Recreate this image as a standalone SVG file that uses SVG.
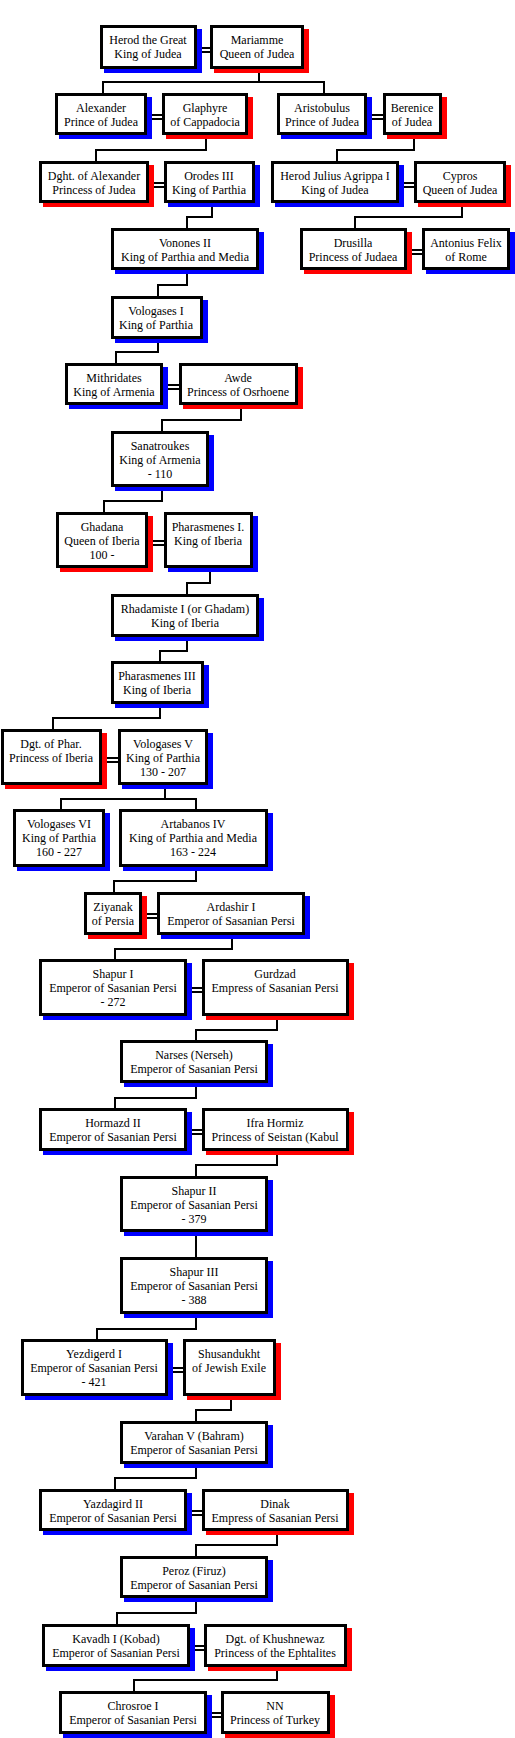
<svg xmlns="http://www.w3.org/2000/svg" width="515" height="1738" viewBox="0 0 515 1738">
<style>
.bg{fill:#ffffff}
.c{fill:none;stroke:#000;stroke-width:2}
.b{fill:#fff;stroke:#000;stroke-width:3}
.sb{fill:#0000ff}
.sr{fill:#ff0000}
text{font-family:"Liberation Serif","Times New Roman",serif;font-size:12px;fill:#000;text-anchor:middle}
</style>
<rect class="bg" x="0" y="0" width="515" height="1738"/>
<g id="connectors">
<path class="c" d="M259,69V82M103,93V82H324V93"/>
<path class="c" d="M206,135V150H96V161"/>
<path class="c" d="M414,135V150H337V161"/>
<path class="c" d="M212,203V217H187V228"/>
<path class="c" d="M462,203V217H355V228"/>
<path class="c" d="M187,270V285H158V296"/>
<path class="c" d="M158,339V352H116V363"/>
<path class="c" d="M241,405V420H162V431"/>
<path class="c" d="M162,487V501H104V512"/>
<path class="c" d="M210,568V583H187V594"/>
<path class="c" d="M187,637V651H160V661"/>
<path class="c" d="M160,704V718H53V729"/>
<path class="c" d="M165,785V799M61,809V799H196V809"/>
<path class="c" d="M196,867V881H114V892"/>
<path class="c" d="M232,935V949H115V959"/>
<path class="c" d="M277,1016V1030H196V1040"/>
<path class="c" d="M196,1083V1098H115V1108"/>
<path class="c" d="M277,1151V1165H196V1176"/>
<path class="c" d="M196,1232V1257"/>
<path class="c" d="M196,1314V1329H97V1339"/>
<path class="c" d="M231,1396V1410H196V1421"/>
<path class="c" d="M196,1464V1478H115V1489"/>
<path class="c" d="M277,1531V1545H196V1556"/>
<path class="c" d="M196,1598V1613H117V1624"/>
<path class="c" d="M277,1667V1680H134V1691"/>
<path class="c" d="M197,48H210M197,52H210"/>
<path class="c" d="M147,115H162M147,119H162"/>
<path class="c" d="M367,115H383M367,119H383"/>
<path class="c" d="M149,183H164M149,187H164"/>
<path class="c" d="M399,183H414M399,187H414"/>
<path class="c" d="M407,250H422M407,254H422"/>
<path class="c" d="M163,385H179M163,389H179"/>
<path class="c" d="M148,541H164M148,545H164"/>
<path class="c" d="M102,758H118M102,762H118"/>
<path class="c" d="M142,914H157M142,918H157"/>
<path class="c" d="M187,988H202M187,992H202"/>
<path class="c" d="M187,1130H202M187,1134H202"/>
<path class="c" d="M168,1368H183M168,1372H183"/>
<path class="c" d="M187,1511H202M187,1515H202"/>
<path class="c" d="M190,1646H204M190,1650H204"/>
<path class="c" d="M207,1713H221M207,1717H221"/>
</g>
<g id="n1"><rect class="sb" x="104" y="29" width="98" height="44"/><rect class="b" x="101.5" y="26.5" width="94" height="41"/><text x="148" y="44">Herod the Great</text><text x="148" y="58">King of Judea</text></g>
<g id="n2"><rect class="sr" x="214" y="29" width="95" height="44"/><rect class="b" x="211.5" y="26.5" width="91" height="41"/><text x="257" y="44">Mariamme</text><text x="257" y="58">Queen of Judea</text></g>
<g id="n3"><rect class="sb" x="59" y="97" width="93" height="42"/><rect class="b" x="56.5" y="94.5" width="89" height="39"/><text x="101" y="112">Alexander</text><text x="101" y="126">Prince of Judea</text></g>
<g id="n4"><rect class="sr" x="166" y="97" width="87" height="42"/><rect class="b" x="163.5" y="94.5" width="83" height="39"/><text x="205" y="112">Glaphyre</text><text x="205" y="126">of Cappadocia</text></g>
<g id="n5"><rect class="sb" x="281" y="97" width="91" height="42"/><rect class="b" x="278.5" y="94.5" width="87" height="39"/><text x="322" y="112">Aristobulus</text><text x="322" y="126">Prince of Judea</text></g>
<g id="n6"><rect class="sr" x="387" y="97" width="60" height="42"/><rect class="b" x="384.5" y="94.5" width="56" height="39"/><text x="412" y="112">Berenice</text><text x="412" y="126">of Judea</text></g>
<g id="n7"><rect class="sr" x="43" y="165" width="111" height="42"/><rect class="b" x="40.5" y="162.5" width="107" height="39"/><text x="94" y="180">Dght. of Alexander</text><text x="94" y="194">Princess of Judea</text></g>
<g id="n8"><rect class="sb" x="168" y="165" width="92" height="42"/><rect class="b" x="165.5" y="162.5" width="88" height="39"/><text x="209" y="180">Orodes III</text><text x="209" y="194">King of Parthia</text></g>
<g id="n9"><rect class="sb" x="275" y="165" width="129" height="42"/><rect class="b" x="272.5" y="162.5" width="125" height="39"/><text x="335" y="180">Herod Julius Agrippa I</text><text x="335" y="194">King of Judea</text></g>
<g id="n10"><rect class="sr" x="418" y="165" width="93" height="42"/><rect class="b" x="415.5" y="162.5" width="89" height="39"/><text x="460" y="180">Cypros</text><text x="460" y="194">Queen of Judea</text></g>
<g id="n11"><rect class="sb" x="115" y="232" width="149" height="42"/><rect class="b" x="112.5" y="229.5" width="145" height="39"/><text x="185" y="247">Vonones II</text><text x="185" y="261">King of Parthia and Media</text></g>
<g id="n12"><rect class="sr" x="304" y="232" width="108" height="42"/><rect class="b" x="301.5" y="229.5" width="104" height="39"/><text x="353" y="247">Drusilla</text><text x="353" y="261">Princess of Judaea</text></g>
<g id="n13"><rect class="sb" x="426" y="232" width="89" height="42"/><rect class="b" x="423.5" y="229.5" width="85" height="39"/><text x="466" y="247">Antonius Felix</text><text x="466" y="261">of Rome</text></g>
<g id="n14"><rect class="sb" x="115" y="300" width="93" height="43"/><rect class="b" x="112.5" y="297.5" width="89" height="40"/><text x="156" y="315">Vologases I</text><text x="156" y="329">King of Parthia</text></g>
<g id="n15"><rect class="sb" x="69" y="367" width="99" height="42"/><rect class="b" x="66.5" y="364.5" width="95" height="39"/><text x="114" y="382">Mithridates</text><text x="114" y="396">King of Armenia</text></g>
<g id="n16"><rect class="sr" x="183" y="367" width="120" height="42"/><rect class="b" x="180.5" y="364.5" width="116" height="39"/><text x="238" y="382">Awde</text><text x="238" y="396">Princess of Osrhoene</text></g>
<g id="n17"><rect class="sb" x="115" y="435" width="99" height="56"/><rect class="b" x="112.5" y="432.5" width="95" height="53"/><text x="160" y="450">Sanatroukes</text><text x="160" y="464">King of Armenia</text><text x="160" y="478">- 110</text></g>
<g id="n18"><rect class="sr" x="60" y="516" width="93" height="56"/><rect class="b" x="57.5" y="513.5" width="89" height="53"/><text x="102" y="531">Ghadana</text><text x="102" y="545">Queen of Iberia</text><text x="102" y="559">100 -</text></g>
<g id="n19"><rect class="sb" x="168" y="516" width="90" height="56"/><rect class="b" x="165.5" y="513.5" width="86" height="53"/><text x="208" y="531">Pharasmenes I.</text><text x="208" y="545">King of Iberia</text></g>
<g id="n20"><rect class="sb" x="115" y="598" width="149" height="43"/><rect class="b" x="112.5" y="595.5" width="145" height="40"/><text x="185" y="613">Rhadamiste I (or Ghadam)</text><text x="185" y="627">King of Iberia</text></g>
<g id="n21"><rect class="sb" x="115" y="665" width="94" height="43"/><rect class="b" x="112.5" y="662.5" width="90" height="40"/><text x="157" y="680">Pharasmenes III</text><text x="157" y="694">King of Iberia</text></g>
<g id="n22"><rect class="sr" x="5" y="733" width="102" height="56"/><rect class="b" x="2.5" y="730.5" width="98" height="53"/><text x="51" y="748">Dgt. of Phar.</text><text x="51" y="762">Princess of Iberia</text></g>
<g id="n23"><rect class="sb" x="122" y="733" width="91" height="56"/><rect class="b" x="119.5" y="730.5" width="87" height="53"/><text x="163" y="748">Vologases V</text><text x="163" y="762">King of Parthia</text><text x="163" y="776">130 - 207</text></g>
<g id="n24"><rect class="sb" x="17" y="813" width="93" height="58"/><rect class="b" x="14.5" y="810.5" width="89" height="55"/><text x="59" y="828">Vologases VI</text><text x="59" y="842">King of Parthia</text><text x="59" y="856">160 - 227</text></g>
<g id="n25"><rect class="sb" x="123" y="813" width="150" height="58"/><rect class="b" x="120.5" y="810.5" width="146" height="55"/><text x="193" y="828">Artabanos IV</text><text x="193" y="842">King of Parthia and Media</text><text x="193" y="856">163 - 224</text></g>
<g id="n26"><rect class="sr" x="88" y="896" width="59" height="43"/><rect class="b" x="85.5" y="893.5" width="55" height="40"/><text x="113" y="911">Ziyanak</text><text x="113" y="925">of Persia</text></g>
<g id="n27"><rect class="sb" x="161" y="896" width="149" height="43"/><rect class="b" x="158.5" y="893.5" width="145" height="40"/><text x="231" y="911">Ardashir I</text><text x="231" y="925">Emperor of Sasanian Persi</text></g>
<g id="n28"><rect class="sb" x="43" y="963" width="149" height="57"/><rect class="b" x="40.5" y="960.5" width="145" height="54"/><text x="113" y="978">Shapur I</text><text x="113" y="992">Emperor of Sasanian Persi</text><text x="113" y="1006">- 272</text></g>
<g id="n29"><rect class="sr" x="206" y="963" width="148" height="57"/><rect class="b" x="203.5" y="960.5" width="144" height="54"/><text x="275" y="978">Gurdzad</text><text x="275" y="992">Empress of Sasanian Persi</text></g>
<g id="n30"><rect class="sb" x="124" y="1044" width="149" height="43"/><rect class="b" x="121.5" y="1041.5" width="145" height="40"/><text x="194" y="1059">Narses (Nerseh)</text><text x="194" y="1073">Emperor of Sasanian Persi</text></g>
<g id="n31"><rect class="sb" x="43" y="1112" width="149" height="43"/><rect class="b" x="40.5" y="1109.5" width="145" height="40"/><text x="113" y="1127">Hormazd II</text><text x="113" y="1141">Emperor of Sasanian Persi</text></g>
<g id="n32"><rect class="sr" x="206" y="1112" width="148" height="43"/><rect class="b" x="203.5" y="1109.5" width="144" height="40"/><text x="275" y="1127">Ifra Hormiz</text><text x="275" y="1141">Princess of Seistan (Kabul</text></g>
<g id="n33"><rect class="sb" x="124" y="1180" width="149" height="56"/><rect class="b" x="121.5" y="1177.5" width="145" height="53"/><text x="194" y="1195">Shapur II</text><text x="194" y="1209">Emperor of Sasanian Persi</text><text x="194" y="1223">- 379</text></g>
<g id="n34"><rect class="sb" x="124" y="1261" width="149" height="57"/><rect class="b" x="121.5" y="1258.5" width="145" height="54"/><text x="194" y="1276">Shapur III</text><text x="194" y="1290">Emperor of Sasanian Persi</text><text x="194" y="1304">- 388</text></g>
<g id="n35"><rect class="sb" x="25" y="1343" width="148" height="57"/><rect class="b" x="22.5" y="1340.5" width="144" height="54"/><text x="94" y="1358">Yezdigerd I</text><text x="94" y="1372">Emperor of Sasanian Persi</text><text x="94" y="1386">- 421</text></g>
<g id="n36"><rect class="sr" x="187" y="1343" width="94" height="57"/><rect class="b" x="184.5" y="1340.5" width="90" height="54"/><text x="229" y="1358">Shusandukht</text><text x="229" y="1372">of Jewish Exile</text></g>
<g id="n37"><rect class="sb" x="124" y="1425" width="149" height="43"/><rect class="b" x="121.5" y="1422.5" width="145" height="40"/><text x="194" y="1440">Varahan V (Bahram)</text><text x="194" y="1454">Emperor of Sasanian Persi</text></g>
<g id="n38"><rect class="sb" x="43" y="1493" width="149" height="42"/><rect class="b" x="40.5" y="1490.5" width="145" height="39"/><text x="113" y="1508">Yazdagird II</text><text x="113" y="1522">Emperor of Sasanian Persi</text></g>
<g id="n39"><rect class="sr" x="206" y="1493" width="148" height="42"/><rect class="b" x="203.5" y="1490.5" width="144" height="39"/><text x="275" y="1508">Dinak</text><text x="275" y="1522">Empress of Sasanian Persi</text></g>
<g id="n40"><rect class="sb" x="124" y="1560" width="149" height="42"/><rect class="b" x="121.5" y="1557.5" width="145" height="39"/><text x="194" y="1575">Peroz (Firuz)</text><text x="194" y="1589">Emperor of Sasanian Persi</text></g>
<g id="n41"><rect class="sb" x="46" y="1628" width="149" height="43"/><rect class="b" x="43.5" y="1625.5" width="145" height="40"/><text x="116" y="1643">Kavadh I (Kobad)</text><text x="116" y="1657">Emperor of Sasanian Persi</text></g>
<g id="n42"><rect class="sr" x="208" y="1628" width="144" height="43"/><rect class="b" x="205.5" y="1625.5" width="140" height="40"/><text x="275" y="1643">Dgt. of Khushnewaz</text><text x="275" y="1657">Princess of the Ephtalites</text></g>
<g id="n43"><rect class="sb" x="63" y="1695" width="149" height="43"/><rect class="b" x="60.5" y="1692.5" width="145" height="40"/><text x="133" y="1710">Chrosroe I</text><text x="133" y="1724">Emperor of Sasanian Persi</text></g>
<g id="n44"><rect class="sr" x="225" y="1695" width="110" height="43"/><rect class="b" x="222.5" y="1692.5" width="106" height="40"/><text x="275" y="1710">NN</text><text x="275" y="1724">Princess of Turkey</text></g>
</svg>
